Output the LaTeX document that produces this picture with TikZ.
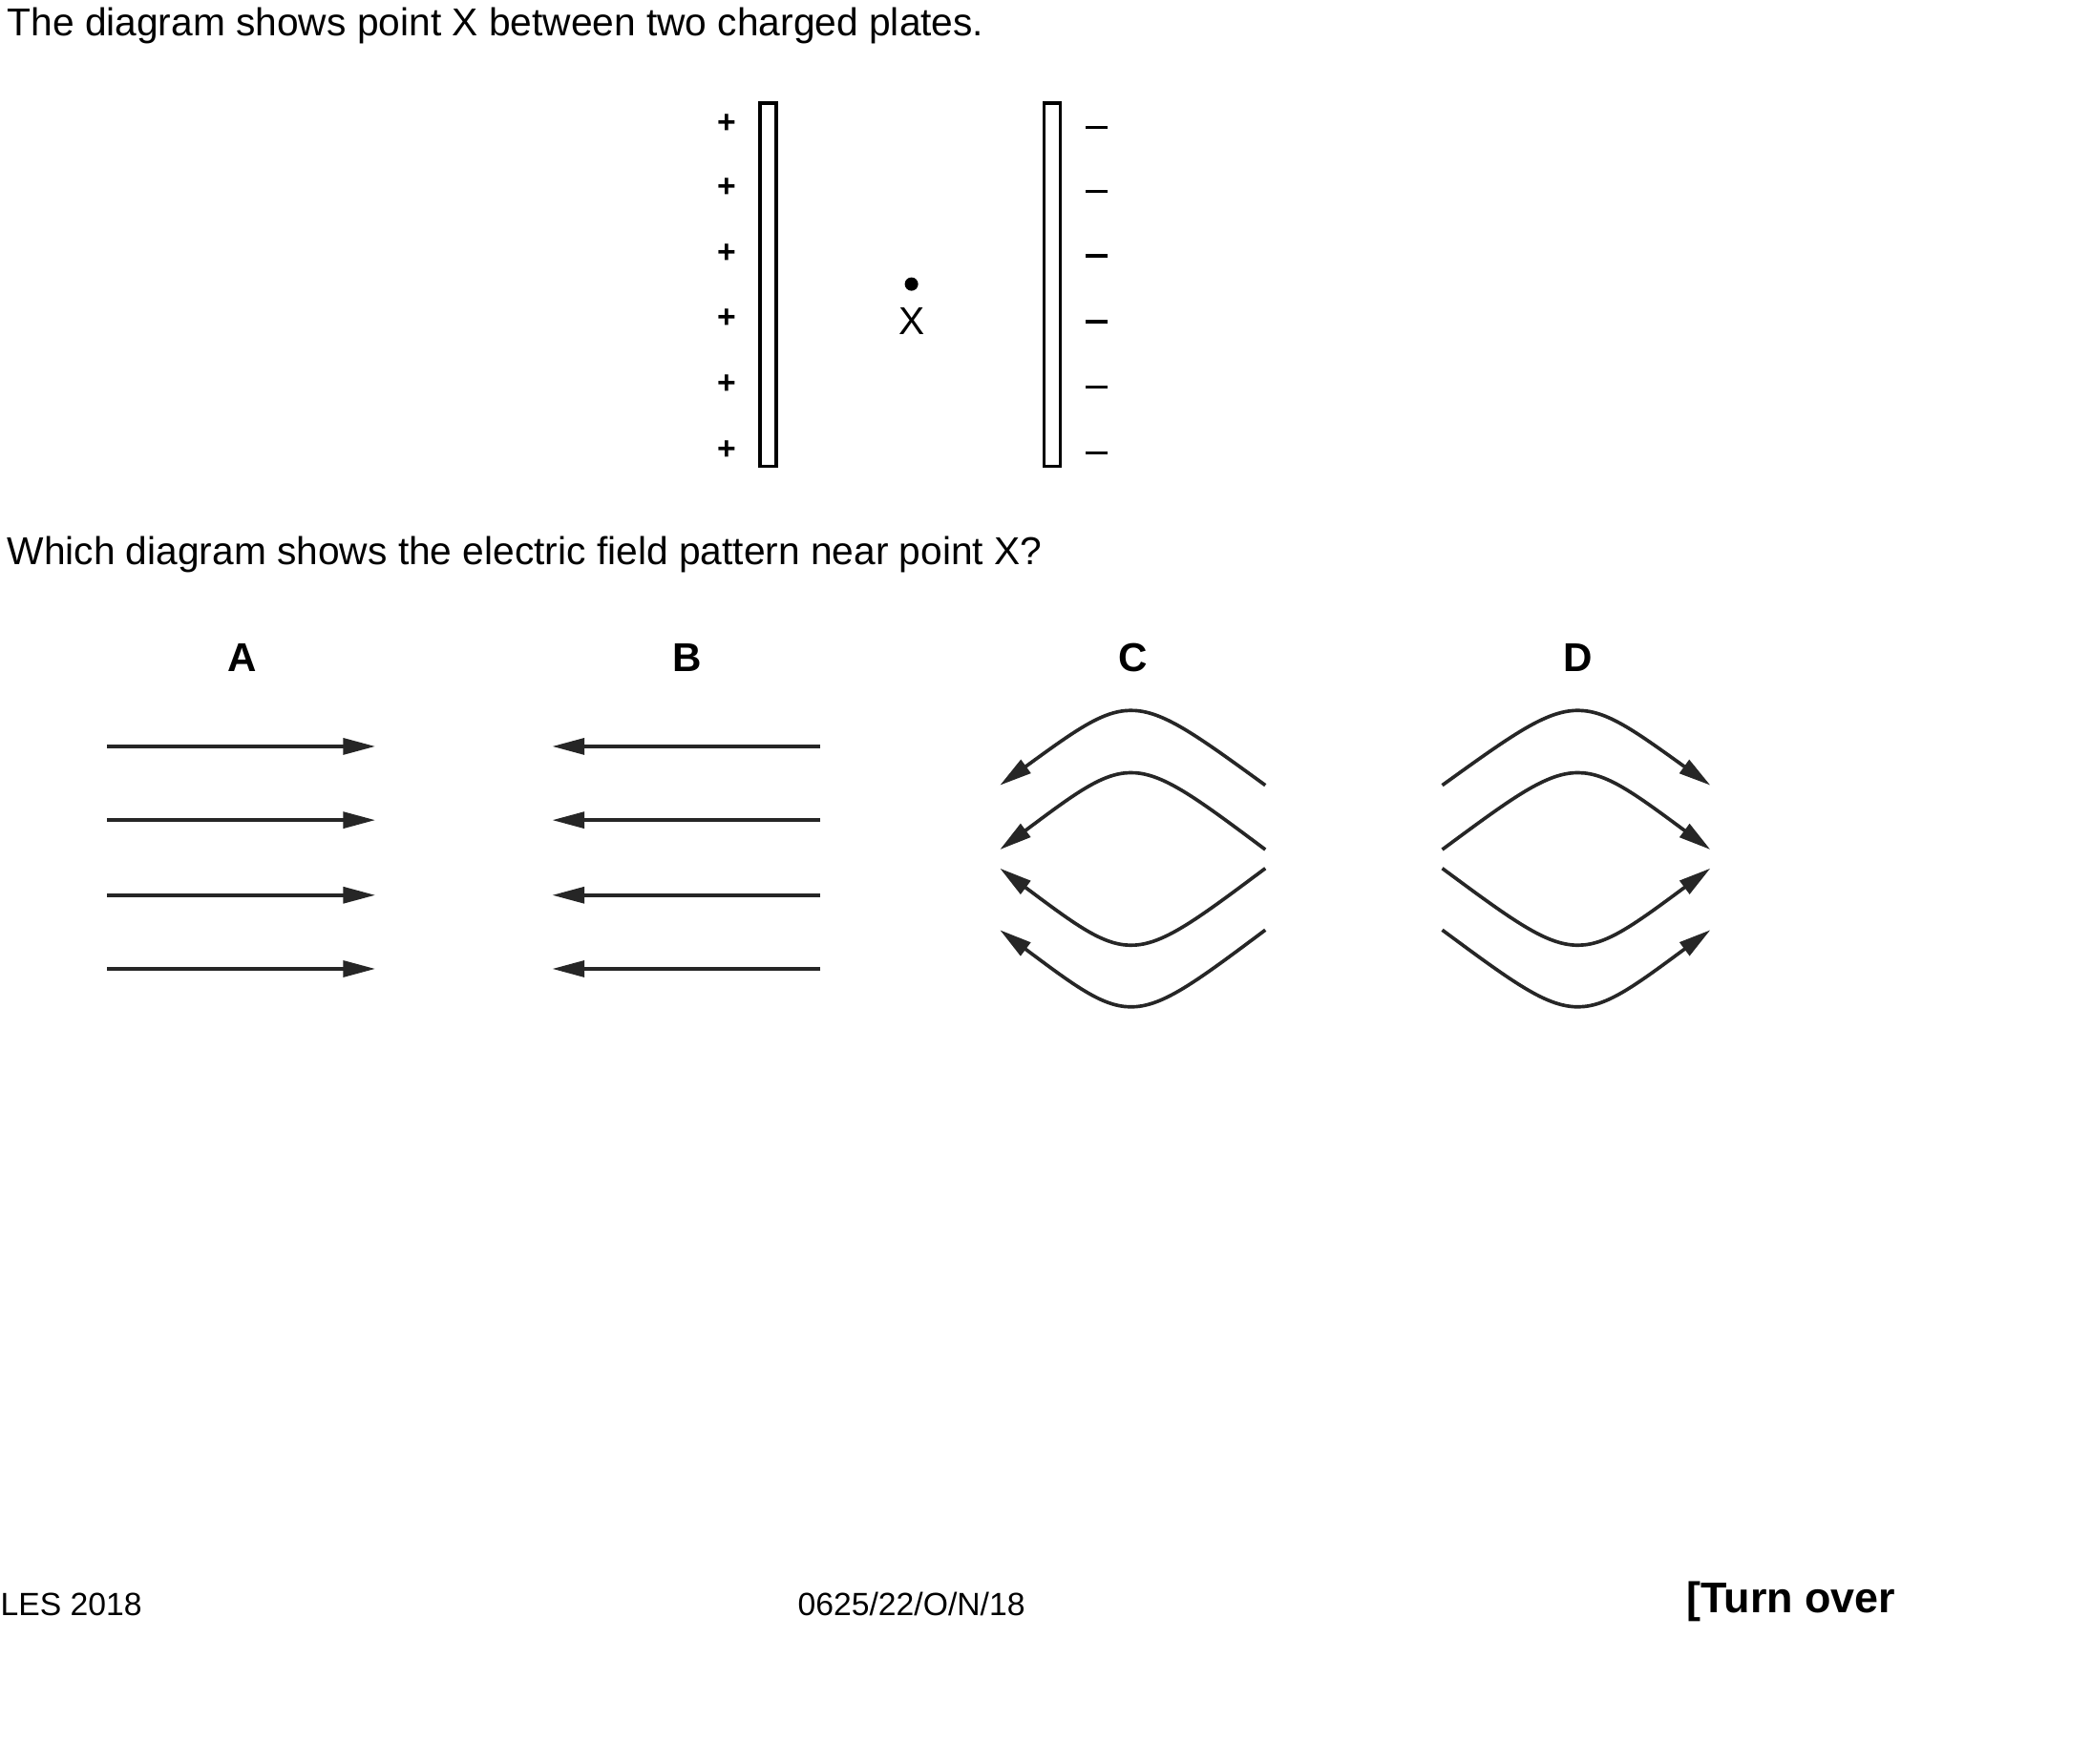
\documentclass[tikz,border=0pt]{standalone}
\usepackage{fontspec}
\setmainfont{Liberation Sans}
\usetikzlibrary{arrows.meta}
\begin{document}
\begin{tikzpicture}[x=0.5pt,y=-0.5pt,
  txt/.style={font=\fontsize{14.5}{16}\selectfont,inner sep=0pt},
  sml/.style={font=\fontsize{12}{14}\selectfont,inner sep=0pt},
  lbl/.style={font=\bfseries\fontsize{15}{17}\selectfont,inner sep=0pt},
  fld/.style={line width=1.3pt,color=black!85,-{Triangle[length=12pt,width=6pt]}},
  plate/.style={draw,line width=1.2pt}]
\useasboundingbox (0,0) rectangle (1560,1316);
\node[txt,anchor=west] (t1) at (5,19) {The diagram shows point X between two charged plates.};
\draw[plate] (567,77) rectangle (579,348);
\draw[plate] (779,77) rectangle (791,348);
\foreach \y [count=\i] in {92,140,189,238,287,336}{\node[sml,font=\bfseries\fontsize{12}{14}\selectfont] (p\i) at (542,\y) {+};}
\foreach \y [count=\i] in {95,143,191,240,289,338}{\draw[line width=1.2pt] (810,\y) -- (826,\y);}
\fill (680,212) circle (5);
\node[txt] (X) at (680,240) {X};
\node[txt,anchor=west] (t2) at (5,414) {Which diagram shows the electric field pattern near point X?};
\node[lbl] (A) at (181,491) {A};
\node[lbl] (B) at (513,491) {B};
\node[lbl] (C) at (845,491) {C};
\node[lbl] (D) at (1177,491) {D};
\foreach \y in {557,612,668,723}{
  \draw[fld] (80,\y) -- (280,\y);
  \draw[fld] (612,\y) -- (412,\y);}
\draw[fld] (944,586) .. controls (845,514) .. (746,586);
\draw[fld] (944,634) .. controls (845,560) .. (746,634);
\draw[fld] (944,648) .. controls (845,722) .. (746,648);
\draw[fld] (944,694) .. controls (845,768) .. (746,694);
\draw[fld] (1076,586) .. controls (1176,514) .. (1276,586);
\draw[fld] (1076,634) .. controls (1176,560) .. (1276,634);
\draw[fld] (1076,648) .. controls (1176,722) .. (1276,648);
\draw[fld] (1076,694) .. controls (1176,768) .. (1276,694);
\node[sml,anchor=west] (f1) at (0,1197) {LES 2018};
\node[sml] (f2) at (680,1197) {0625/22/O/N/18};
\node[lbl,font=\bfseries\fontsize{16}{18}\selectfont,anchor=west] (f3) at (1258,1195) {[Turn over};
\end{tikzpicture}
\end{document}
